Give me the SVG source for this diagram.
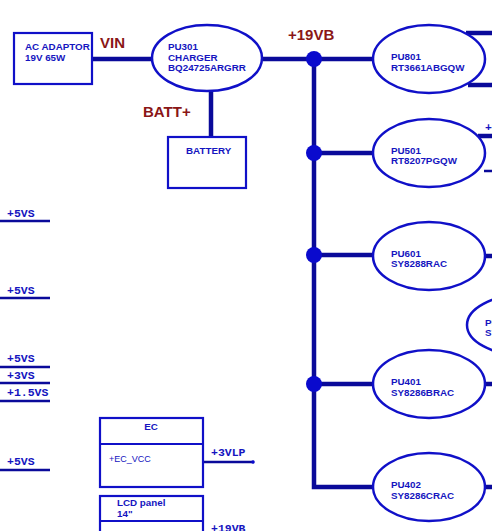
<svg xmlns="http://www.w3.org/2000/svg" width="492" height="531" viewBox="0 0 492 531">
<style>
.bx{fill:none;stroke:#1010c8;stroke-width:2.2}
.el{fill:#fff;stroke:#1010c8;stroke-width:2.5}
.w{stroke:#0a0a9a;stroke-width:4.5;fill:none}
.tw{stroke:#0a0a9a;stroke-width:2.5;fill:none}
.t{font-family:"Liberation Sans",Arial,sans-serif;font-weight:bold;font-size:9.8px;fill:#1515c0}
.r{font-family:"Liberation Sans",Arial,sans-serif;font-weight:bold;font-size:15px;fill:#8a1616}
.m{font-family:"Liberation Mono","Courier New",monospace;font-weight:bold;font-size:11.5px;fill:#1515c0}
.dot{fill:#0a0acd}
</style>
<rect width="492" height="531" fill="#fff"/>
<g id="connectors">
<line class="w" x1="92" y1="59" x2="152" y2="59"/>
<line class="w" x1="211" y1="92" x2="211" y2="137"/>
<line class="w" x1="263" y1="59" x2="374" y2="59"/>
<polyline class="w" points="314,59 314,487 374,487"/>
<line class="w" x1="314" y1="153" x2="374" y2="153"/>
<line class="w" x1="314" y1="255" x2="374" y2="255"/>
<line class="w" x1="314" y1="384" x2="374" y2="384"/>
<circle class="dot" cx="314" cy="59" r="8"/>
<circle class="dot" cx="314" cy="153" r="8"/>
<circle class="dot" cx="314" cy="255" r="8"/>
<circle class="dot" cx="314" cy="384" r="8"/>
<line class="w" x1="466" y1="33" x2="492" y2="33"/>
<line class="w" x1="468" y1="85" x2="492" y2="85"/>
<line class="w" x1="478" y1="136" x2="492" y2="136"/>
<line class="tw" x1="484" y1="171" x2="492" y2="171"/>
<line class="w" x1="485" y1="256" x2="492" y2="256"/>
<line class="w" x1="485" y1="384" x2="492" y2="384"/>
<line class="w" x1="485" y1="487" x2="492" y2="487"/>
<line class="tw" x1="0" y1="221" x2="50" y2="221"/>
<line class="tw" x1="0" y1="298" x2="50" y2="298"/>
<line class="tw" x1="0" y1="367" x2="50" y2="367"/>
<line class="tw" x1="0" y1="383" x2="50" y2="383"/>
<line class="tw" x1="0" y1="401" x2="50" y2="401"/>
<line class="tw" x1="0" y1="470" x2="50" y2="470"/>
<line class="tw" x1="203" y1="462" x2="254" y2="462"/>
<circle class="dot" cx="253" cy="462" r="1.8"/>
</g>
<text class="r" x="100" y="48">VIN</text>
<text class="r" x="143" y="117">BATT+</text>
<text class="r" x="288" y="40">+19VB</text>
<text class="m" x="485" y="131">+</text>
<text class="m" x="7" y="217">+5VS</text>
<text class="m" x="7" y="294">+5VS</text>
<text class="m" x="7" y="362">+5VS</text>
<text class="m" x="7" y="379">+3VS</text>
<text class="m" x="7" y="396">+1.5VS</text>
<text class="m" x="7" y="465">+5VS</text>
<text class="m" x="211" y="456">+3VLP</text>
<text class="m" x="211" y="532">+19VB</text>
<g id="adaptor">
<rect class="bx" x="14" y="33" width="78" height="51"/>
<text class="t" x="25" y="50">AC ADAPTOR</text>
<text class="t" x="25" y="61">19V 65W</text>
</g>
<g id="pu301">
<ellipse class="el" cx="207" cy="58" rx="55" ry="33"/>
<text class="t" x="168" y="50">PU301</text>
<text class="t" x="168" y="61">CHARGER</text>
<text class="t" x="168" y="71">BQ24725ARGRR</text>
</g>
<g id="battery">
<rect class="bx" x="168" y="137" width="78" height="51"/>
<text class="t" x="186" y="154">BATTERY</text>
</g>
<g id="pu801">
<ellipse class="el" cx="429" cy="59" rx="56" ry="34"/>
<text class="t" x="391" y="60">PU801</text>
<text class="t" x="391" y="71">RT3661ABGQW</text>
</g>
<g id="pu501">
<ellipse class="el" cx="429" cy="153" rx="56" ry="34"/>
<text class="t" x="391" y="154">PU501</text>
<text class="t" x="391" y="164">RT8207PGQW</text>
</g>
<g id="pu601">
<ellipse class="el" cx="429" cy="256" rx="56" ry="34"/>
<text class="t" x="391" y="257">PU601</text>
<text class="t" x="391" y="267">SY8288RAC</text>
</g>
<g id="pu_partial">
<ellipse class="el" cx="523" cy="325" rx="56" ry="30"/>
<text class="t" x="485" y="326">PU</text>
<text class="t" x="485" y="336">SY</text>
</g>
<g id="pu401">
<ellipse class="el" cx="429" cy="384" rx="56" ry="34"/>
<text class="t" x="391" y="385">PU401</text>
<text class="t" x="391" y="396">SY8286BRAC</text>
</g>
<g id="pu402">
<ellipse class="el" cx="429" cy="487" rx="56" ry="34"/>
<text class="t" x="391" y="488">PU402</text>
<text class="t" x="391" y="499">SY8286CRAC</text>
</g>
<g id="ec">
<rect class="bx" x="100" y="418" width="103" height="69"/>
<line class="bx" x1="100" y1="444" x2="203" y2="444"/>
<text class="t" x="151" y="430" text-anchor="middle">EC</text>
<text x="109" y="462" style="font-family:'Liberation Sans',Arial,sans-serif;font-size:9px;fill:#1515c0">+EC_VCC</text>
</g>
<g id="lcd">
<rect class="bx" x="100" y="496" width="103" height="40"/>
<line class="bx" x1="100" y1="521" x2="203" y2="521"/>
<text class="t" x="117" y="506">LCD panel</text>
<text class="t" x="117" y="517">14"</text>
</g>
</svg>
